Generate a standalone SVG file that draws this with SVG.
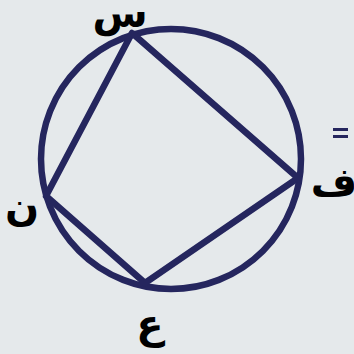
<svg xmlns="http://www.w3.org/2000/svg" width="354" height="354" viewBox="0 0 354 354">
<style>
.lbl{font-family:"DejaVu Sans","Noto Sans",sans-serif;font-weight:bold;font-size:40px;fill:#000;text-anchor:middle}
.ln{stroke:#25265e;stroke-width:6.5;fill:none;stroke-linejoin:round;stroke-linecap:round}
</style>
<rect width="354" height="354" fill="#e5e9eb"/>
<g id="circle"><circle class="ln" cx="171" cy="159" r="130"/></g>
<g id="connectors">
<polygon class="ln" points="132,33 298,178 145,283 46,196"/>
</g>
<g id="node-s"><text class="lbl" x="120" y="27">س</text></g>
<g id="node-f"><text class="lbl" x="334" y="196">ف</text></g>
<g id="node-ayn"><text class="lbl" x="150" y="338">ع</text></g>
<g id="node-n"><text class="lbl" x="22" y="220">ن</text></g>
<g id="eq"><rect x="333" y="128" width="15" height="3" fill="#25265e"/><rect x="333" y="135" width="15" height="3" fill="#25265e"/></g>
</svg>
